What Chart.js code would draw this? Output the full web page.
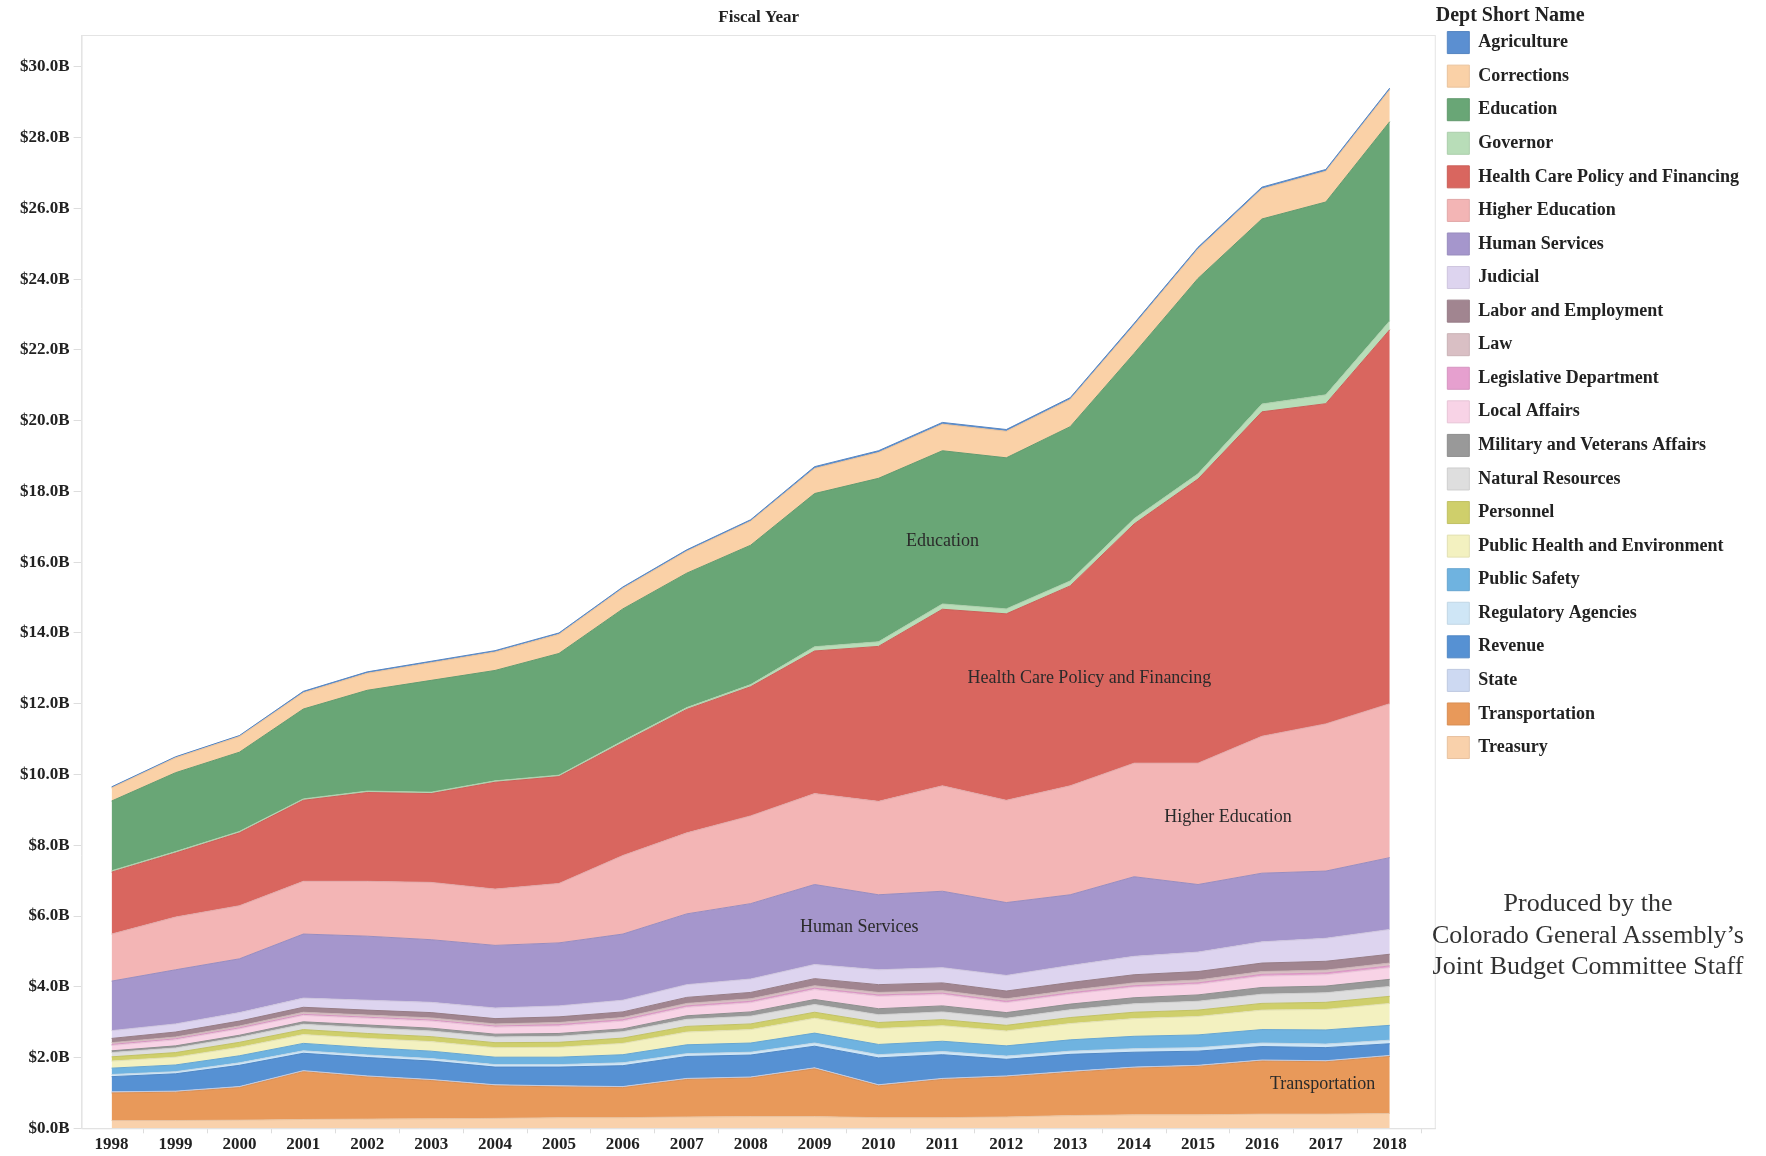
<!DOCTYPE html>
<html>
<head>
<meta charset="utf-8">
<title>Colorado budget by department</title>
<script src="https://cdn.jsdelivr.net/npm/chart.js@4.4.1/dist/chart.umd.min.js"></script>
<style>
    body { margin: 0; background: #fff; }
    #wrap { position: relative; width: 1766px; height: 1156px; }
    #credit {
        position: absolute; left: 1410px; top: 887px; width: 356px;
        text-align: center; font: 26px/31.5px "Liberation Serif", serif; color: #333;
    }
</style>
</head>
<body>
<div id="wrap">
    <canvas id="budgetChart" width="1766" height="1156"></canvas>
    <div id="credit">Produced by the<br>Colorado General Assembly’s<br>Joint Budget Committee Staff</div>
</div>
<script>
// Fiscal years on the x axis
const years = [1998, 1999, 2000, 2001, 2002, 2003, 2004, 2005, 2006, 2007, 2008,
               2009, 2010, 2011, 2012, 2013, 2014, 2015, 2016, 2017, 2018];

// Department appropriations, $ billions
const agriculture    = [0.03, 0.03, 0.03, 0.04, 0.04, 0.04, 0.04, 0.04, 0.04, 0.04, 0.04, 0.05, 0.05, 0.05, 0.05, 0.05, 0.05, 0.05, 0.05, 0.05, 0.05];
const corrections    = [0.37, 0.42, 0.44, 0.46, 0.48, 0.50, 0.52, 0.54, 0.58, 0.62, 0.68, 0.71, 0.73, 0.75, 0.75, 0.77, 0.80, 0.83, 0.85, 0.87, 0.90];
const education      = [1.97, 2.23, 2.24, 2.54, 2.85, 3.16, 3.12, 3.44, 3.73, 3.80, 3.94, 4.33, 4.62, 4.33, 4.27, 4.36, 4.67, 5.52, 5.23, 5.45, 5.63];
const governor       = [0.04, 0.04, 0.04, 0.04, 0.04, 0.04, 0.04, 0.04, 0.05, 0.05, 0.06, 0.12, 0.13, 0.15, 0.14, 0.14, 0.15, 0.15, 0.22, 0.25, 0.25];
const healthCare     = [1.75, 1.81, 2.06, 2.29, 2.51, 2.51, 3.02, 3.02, 3.19, 3.49, 3.65, 4.03, 4.38, 4.99, 5.27, 5.65, 6.76, 8.03, 9.17, 9.05, 10.57];
const higherEd       = [1.33, 1.49, 1.50, 1.49, 1.55, 1.62, 1.59, 1.68, 2.22, 2.29, 2.48, 2.57, 2.64, 2.98, 2.89, 3.08, 3.21, 3.43, 3.87, 4.16, 4.35];
const humanServices  = [1.40, 1.53, 1.52, 1.81, 1.81, 1.77, 1.77, 1.78, 1.87, 2.00, 2.13, 2.26, 2.12, 2.16, 2.06, 2.00, 2.25, 1.91, 1.94, 1.90, 2.03];
const judicial       = [0.22, 0.23, 0.24, 0.26, 0.28, 0.29, 0.30, 0.31, 0.33, 0.36, 0.38, 0.40, 0.42, 0.43, 0.44, 0.48, 0.52, 0.55, 0.60, 0.65, 0.70];
const labor          = [0.12, 0.14, 0.14, 0.14, 0.14, 0.15, 0.15, 0.16, 0.16, 0.17, 0.18, 0.20, 0.22, 0.22, 0.22, 0.22, 0.23, 0.24, 0.24, 0.25, 0.25];
const law            = [0.05, 0.05, 0.05, 0.06, 0.06, 0.06, 0.06, 0.06, 0.06, 0.07, 0.07, 0.07, 0.07, 0.07, 0.07, 0.07, 0.08, 0.08, 0.08, 0.08, 0.08];
const legislative    = [0.03, 0.03, 0.03, 0.03, 0.03, 0.03, 0.03, 0.04, 0.04, 0.04, 0.04, 0.04, 0.04, 0.04, 0.04, 0.04, 0.04, 0.04, 0.05, 0.05, 0.05];
const localAffairs   = [0.15, 0.17, 0.18, 0.18, 0.19, 0.20, 0.20, 0.21, 0.22, 0.24, 0.26, 0.28, 0.35, 0.32, 0.28, 0.28, 0.30, 0.30, 0.32, 0.32, 0.33];
const military       = [0.05, 0.06, 0.06, 0.07, 0.08, 0.08, 0.08, 0.08, 0.08, 0.10, 0.12, 0.14, 0.17, 0.17, 0.16, 0.16, 0.17, 0.18, 0.19, 0.19, 0.20];
const naturalRes     = [0.12, 0.13, 0.14, 0.15, 0.16, 0.16, 0.16, 0.17, 0.18, 0.20, 0.22, 0.22, 0.22, 0.22, 0.20, 0.22, 0.24, 0.25, 0.26, 0.27, 0.28];
const personnel      = [0.12, 0.13, 0.14, 0.14, 0.14, 0.14, 0.14, 0.14, 0.15, 0.16, 0.16, 0.17, 0.17, 0.17, 0.16, 0.17, 0.18, 0.18, 0.19, 0.20, 0.20];
const publicHealth   = [0.20, 0.22, 0.24, 0.25, 0.26, 0.27, 0.27, 0.28, 0.32, 0.36, 0.38, 0.42, 0.45, 0.44, 0.42, 0.46, 0.50, 0.52, 0.55, 0.58, 0.62];
const publicSafety   = [0.18, 0.19, 0.20, 0.21, 0.21, 0.21, 0.21, 0.21, 0.23, 0.25, 0.26, 0.28, 0.29, 0.29, 0.29, 0.32, 0.35, 0.36, 0.38, 0.40, 0.42];
const regulatory     = [0.06, 0.06, 0.07, 0.07, 0.07, 0.07, 0.07, 0.07, 0.08, 0.08, 0.08, 0.09, 0.09, 0.09, 0.09, 0.09, 0.10, 0.10, 0.10, 0.10, 0.10];
const revenue        = [0.43, 0.49, 0.60, 0.49, 0.52, 0.52, 0.50, 0.53, 0.59, 0.62, 0.62, 0.61, 0.76, 0.67, 0.47, 0.48, 0.42, 0.40, 0.38, 0.37, 0.33];
const state          = [0.03, 0.03, 0.03, 0.03, 0.03, 0.03, 0.03, 0.03, 0.03, 0.03, 0.03, 0.03, 0.03, 0.03, 0.03, 0.03, 0.03, 0.03, 0.03, 0.03, 0.03];
const transportation = [0.78, 0.80, 0.92, 1.35, 1.19, 1.08, 0.92, 0.87, 0.85, 1.06, 1.09, 1.35, 0.90, 1.08, 1.13, 1.22, 1.32, 1.37, 1.50, 1.48, 1.61];
const treasury       = [0.22, 0.22, 0.23, 0.25, 0.26, 0.27, 0.28, 0.30, 0.30, 0.32, 0.33, 0.33, 0.30, 0.30, 0.32, 0.36, 0.38, 0.38, 0.40, 0.40, 0.42];

// Legend order (top of the stack first)
const departments = [
    ['Agriculture', agriculture, '#5b8fd1'],
    ['Corrections', corrections, '#fad1a7'],
    ['Education', education, '#69a676'],
    ['Governor', governor, '#b8ddb8'],
    ['Health Care Policy and Financing', healthCare, '#d9665f'],
    ['Higher Education', higherEd, '#f3b5b5'],
    ['Human Services', humanServices, '#a596cc'],
    ['Judicial', judicial, '#ddd4ef'],
    ['Labor and Employment', labor, '#a18590'],
    ['Law', law, '#d9bfc4'],
    ['Legislative Department', legislative, '#e6a0cf'],
    ['Local Affairs', localAffairs, '#f8d3e6'],
    ['Military and Veterans Affairs', military, '#999999'],
    ['Natural Resources', naturalRes, '#dedede'],
    ['Personnel', personnel, '#cfcf6b'],
    ['Public Health and Environment', publicHealth, '#f3f1c0'],
    ['Public Safety', publicSafety, '#6fb3e0'],
    ['Regulatory Agencies', regulatory, '#cfe6f6'],
    ['Revenue', revenue, '#5691d3'],
    ['State', state, '#cdd9f2'],
    ['Transportation', transportation, '#e8995a'],
    ['Treasury', treasury, '#f9d1ab']
];

// Text written on top of the big bands (year, $B)
const bandLabels = [
    { text: 'Education', year: 2011.0, value: 16.6 },
    { text: 'Health Care Policy and Financing', year: 2013.3, value: 12.73 },
    { text: 'Higher Education', year: 2015.47, value: 8.79 },
    { text: 'Human Services', year: 2009.7, value: 5.69 },
    { text: 'Transportation', year: 2016.95, value: 1.24 }
];

function darken(hex, f) {
    const n = parseInt(hex.slice(1), 16);
    const r = Math.round(((n >> 16) & 255) * f);
    const g = Math.round(((n >> 8) & 255) * f);
    const b = Math.round((n & 255) * f);
    return `rgb(${r},${g},${b})`;
}

// bottom of the stack is dataset 0, so build them in reverse
const datasets = departments.slice().reverse().map(([name, values, color], i) => ({
    label: name,
    data: years.map((yr, k) => ({ x: yr, y: values[k] })),
    backgroundColor: color,
    borderColor: darken(color, 0.93),
    borderWidth: 1,
    pointRadius: 0,
    tension: 0,
    fill: i === 0 ? 'origin' : '-1'
}));

const serif = '"Liberation Serif", "Times New Roman", serif';

const plotFrame = {
    id: 'plotFrame',
    beforeDatasetsDraw(chart) {
        const { ctx, chartArea: a } = chart;
        ctx.save();
        ctx.strokeStyle = '#e4e4e4';
        ctx.lineWidth = 1;
        ctx.strokeRect(a.left + 0.5, a.top + 0.5, a.right - a.left - 1, a.bottom - a.top);
        ctx.restore();
    }
};

const bandText = {
    id: 'bandText',
    afterDatasetsDraw(chart) {
        const { ctx, scales } = chart;
        ctx.save();
        ctx.font = '18px ' + serif;
        ctx.fillStyle = '#2a2a2a';
        ctx.textAlign = 'center';
        ctx.textBaseline = 'middle';
        bandLabels.forEach(l => {
            ctx.fillText(l.text, scales.x.getPixelForValue(l.year), scales.y.getPixelForValue(l.value));
        });
        ctx.restore();
    }
};

new Chart(document.getElementById('budgetChart').getContext('2d'), {
    type: 'line',
    data: { datasets: datasets },
    options: {
        responsive: false,
        animation: false,
        layout: { padding: { left: 16, right: 17, top: 0, bottom: 0 } },
        scales: {
            x: {
                type: 'linear',
                min: 1997.53,
                max: 2018.72,
                afterBuildTicks: axis => {
                    const ticks = [];
                    years.forEach(y => { ticks.push({ value: y }); ticks.push({ value: y + 0.5 }); });
                    axis.ticks = ticks;
                },
                grid: {
                    drawOnChartArea: false,
                    tickLength: 5,
                    color: ctx => (ctx.tick && Number.isInteger(ctx.tick.value)) ? 'rgba(0,0,0,0)' : '#dddddd'
                },
                border: { display: true, color: '#dcdcdc' },
                ticks: {
                    autoSkip: false,
                    maxRotation: 0,
                    padding: 2,
                    color: '#222',
                    font: { family: serif, size: 17, weight: 'bold', lineHeight: 1.1 },
                    callback: v => Number.isInteger(v) ? String(v) : ''
                }
            },
            y: {
                stacked: true,
                min: 0,
                max: 30.9,
                afterBuildTicks: axis => {
                    axis.ticks = axis.ticks.filter(t => Math.abs(t.value % 2) < 1e-6);
                },
                ticks: {
                    stepSize: 2,
                    padding: 4,
                    color: '#222',
                    font: { family: serif, size: 17, weight: 'bold' },
                    callback: v => '$' + v.toFixed(1) + 'B'
                },
                grid: { drawOnChartArea: false, tickLength: 8, color: '#dddddd' },
                border: { display: true, color: '#e4e4e4' }
            }
        },
        plugins: {
            title: {
                display: true,
                text: 'Fiscal Year',
                fullSize: false,
                color: '#222',
                font: { family: serif, size: 17, weight: 'bold' },
                padding: { top: 7, bottom: 7.6 }
            },
            legend: {
                position: 'right',
                align: 'start',
                reverse: true,
                title: {
                    display: true,
                    text: 'Dept Short Name',
                    position: 'start',
                    color: '#222',
                    font: { family: serif, size: 20, weight: 'bold' },
                    padding: { top: 6, bottom: -10 }
                },
                labels: {
                    boxWidth: 22,
                    boxHeight: 22,
                    padding: 11.57,
                    color: '#222',
                    font: { family: serif, size: 18, weight: 'bold' }
                }
            },
            tooltip: { enabled: false }
        }
    },
    plugins: [plotFrame, bandText]
});
</script>
</body>
</html>
